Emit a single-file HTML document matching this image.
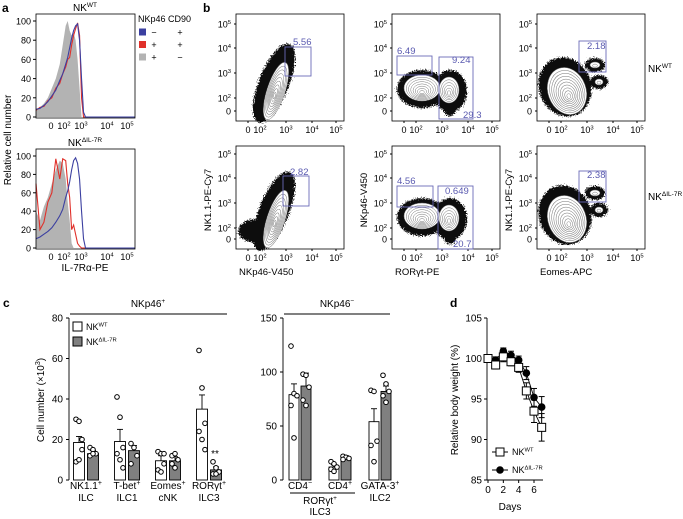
<!DOCTYPE html>
<html><head><meta charset="utf-8">
<style>
html,body{margin:0;padding:0;background:#fff;}
svg{display:block;font-family:"Liberation Sans",sans-serif;}
</style></head>
<body>
<svg id="fig" width="683" height="519" viewBox="0 0 683 519">
<defs>
<filter id="rough" x="-20%" y="-20%" width="140%" height="140%">
<feTurbulence type="fractalNoise" baseFrequency="0.9" numOctaves="2" seed="3" result="n"/>
<feDisplacementMap in="SourceGraphic" in2="n" scale="7" xChannelSelector="R" yChannelSelector="G"/>
</filter>
</defs>
<g id="pa"></g>
<g id="pb"></g>
<g id="pc"></g>
<g id="pd"></g>
</svg>
<script>
// ---------- DATA ----------
const histX = [0,4,8,12,16,20,24,27,30,32,34,36,38,40,42,44,46,48,50,52,54,56,60,70,100];
const topGray = [8,10,14,20,30,40,55,75,95,100,90,85,88,80,60,30,0,0,0,0,0,0,0,0,0];
const topBlue = [8,9,12,16,22,28,38,45,55,62,72,82,90,95,97,80,40,5,0,0,0,0,0,0,0];
const topRed  = [7,10,11,17,20,30,35,45,52,60,62,75,85,92,98,85,20,0,0,0,0,0,0,0,0];
const botGray = [40,30,45,55,70,85,95,92,75,50,30,5,0,0,0,0,0,0,0,0,0,0,0,0,0];
const botBlue = [10,12,15,18,22,28,35,42,55,62,72,85,95,98,92,75,40,10,0,0,0,0,0,0,0];
const botRed  = [70,20,28,50,60,97,75,97,95,70,55,20,25,15,5,2,0,0,0,0,0,0,0,0,0];

const cLeftCats = ["NK1.1+|ILC","T-bet+|ILC1","Eomes+|cNK","RORγt+|ILC3"];
const cLeftWT = [18.5,19,9.5,35];
const cLeftWTerr = [3,6,2.5,7];
const cLeftKO = [13,14.5,9.5,5];
const cLeftKOerr = [1.5,2.5,2,1.5];
const cLeftWTdots = [[30,29,15,9,10,20],[41,31,16,13,10,6],[14,13,8,5,4,13],[64,45.5,28,24,20,15]];
const cLeftKOdots = [[16,15,13,12,13],[18,16,12,8],[12,13,10,8,6],[9,6,4,3,3]];
const cLeftTicks = [0,20,40,60,80];
const cRightCats = ["CD4−","CD4+","GATA-3+|ILC2"];
const cRightWT = [79,12,54];
const cRightWTerr = [10,2,12];
const cRightKO = [87,21,82];
const cRightKOerr = [12,1.5,5];
const cRightWTdots = [[124,80,78,69,39],[17,15,12,10,8],[83,82,36,32,17]];
const cRightKOdots = [[98,97,86,74,69],[22,21,20,19],[97,89,82,78,72]];
const cRightTicks = [0,50,100,150];

const dDays = [0,1,2,3,4,5,6,7];
const dWT = [100,99.2,100.2,99.6,98.9,96,93.5,91.5];
const dWTerr = [0.3,0.5,0.6,0.5,0.6,1,1.4,1.7];
const dKO = [100,99.8,100.9,100.4,99.8,98.2,95.2,94];
const dKOerr = [0.3,0.4,0.4,0.5,0.5,0.8,1.1,1.3];
const dYTicks = [85,90,95,100,105];
const dXTicks = [0,2,4,6];

// ---------- helpers ----------
const NS="http://www.w3.org/2000/svg";
function el(parent,tag,attrs,text){const e=document.createElementNS(NS,tag);for(const k in attrs)e.setAttribute(k,attrs[k]);if(text!==undefined)e.textContent=text;parent.appendChild(e);return e;}
function supText(parent,x,y,base,sup,size,anchor){const t=el(parent,'text',{x:x,y:y,'font-size':size,'text-anchor':anchor||'start'});const a=document.createElementNS(NS,'tspan');a.textContent=base;t.appendChild(a);const b=document.createElementNS(NS,'tspan');b.setAttribute('dy',-size*0.4);b.setAttribute('font-size',size*0.65);b.textContent=sup;t.appendChild(b);return t;}

// ---------- Panel a ----------
const pa=document.getElementById('pa');
let t=el(pa,'text',{x:2,y:12,'font-size':12,'font-weight':'bold'},'a');

function hist(y0,y100,title,gray,blue,red,name){
  const x0=36,x1=135;
  const g=el(pa,'g',{});
  
  const fx=v=>x0+(x1-x0)*v/100, fy=v=>y0-(y0-y100)*v/100;
  let d='M'+fx(histX[0])+','+y0;histX.forEach((h,i)=>d+=' L'+fx(h)+','+fy(gray[i]));d+=' L'+fx(100)+','+y0+'Z';
  const gp=el(g,'path',{d:d,fill:'#b3b3b3',stroke:'none'});
  
  [[red,'#e0302a','red-histogram'],[blue,'#3b3fa0','blue-histogram']].forEach(s=>{
    let p='';histX.forEach((h,i)=>p+=(i?' L':'M')+fx(h)+','+fy(s[0][i]));
    const pe=el(g,'path',{d:p,fill:'none',stroke:s[1],'stroke-width':1.1});
    
  });
  el(g,'rect',{x:x0,y:y100-7,width:x1-x0,height:y0-y100+8,fill:'none',stroke:'#000','stroke-width':0.8});
  [0,20,40,60,80,100].forEach(v=>{el(g,'line',{x1:x0-3,x2:x0,y1:fy(v),y2:fy(v),stroke:'#000'});el(g,'text',{x:x0-5,y:fy(v)+3.5,'font-size':9,'text-anchor':'end'},v);});
  el(g,'text',{x:51,y:y0+12,'font-size':9,'text-anchor':'middle'},'0');
  [[64,'2'],[81,'3'],[107,'4'],[127,'5']].forEach(a=>supText(g,a[0],y0+12,'10',a[1],9,'middle'));
  const tt=supText(g,85,y100-10,'NK',title,10,'middle');
  
}
hist(117,21,'WT',topGray,topBlue,topRed,'histogram-nk-wt');
hist(248,156,'ΔIL-7R',botGray,botBlue,botRed,'histogram-nk-dil7r');
t=el(pa,'text',{x:0,y:0,'font-size':10,'text-anchor':'middle',transform:'translate(11,140) rotate(-90)'},'Relative cell number');

t=el(pa,'text',{x:85,y:271,'font-size':10,'text-anchor':'middle'},'IL-7Rα-PE');

const lg=el(pa,'g',{});

el(lg,'text',{x:138,y:22,'font-size':9},'NKp46');el(lg,'text',{x:168,y:22,'font-size':9},'CD90');
[['#3b3fa0','−','+'],['#e0302a','+','+'],['#b3b3b3','+','−']].forEach((r,i)=>{
  const y=32+i*12.5;el(lg,'rect',{x:139,y:y-3.5,width:7,height:7,fill:r[0]});
  el(lg,'text',{x:154,y:y+3.5,'font-size':9,'text-anchor':'middle'},r[1]);
  el(lg,'text',{x:180,y:y+3.5,'font-size':9,'text-anchor':'middle'},r[2]);
});

// ---------- Panel b ----------
const pb=document.getElementById('pb');
t=el(pb,'text',{x:203,y:12,'font-size':12,'font-weight':'bold'},'b');

const cols=[236,392,537], W=108;
const rows=[{top:14,bot:121,yt:[24,48,73,98,111]},{top:146,bot:249,yt:[154,178,203,228,239]}];
const xLabels=['NKp46-V450','RORγt-PE','Eomes-APC'];
const yLabels=['NK1.1-PE-Cy7','NKp46-V450','NK1.1-PE-Cy7'];
const gates=[
 [[[285,47,26,29,'5.56',293,45]],[[397,56,35,19,'6.49',397,54],[439,57,34,62,'9.24',452,63],[null,0,0,0,'29.3',463,118]],[[579,41,27,31,'2.18',587,49]]],
 [[[283,176,26,30,'2.82',290,175]],[[397,186,36,21,'4.56',397,184],[438,186,35,63,'0.649',445,194],[null,0,0,0,'20.7',453,247]],[[579,171,27,31,'2.38',587,178]]]
];
rows.forEach((r,ri)=>cols.forEach((cx,ci)=>{
  const g=el(pb,'g',{});
  
  const bot=r.bot-8;
  const bg=el(g,'g',{filter:'url(#rough)'});
  const cg=el(g,'g',{});
  const blob=(x,y,rx,ry,rot)=>{el(bg,'ellipse',{cx:x,cy:y,rx:rx,ry:ry,fill:'#111',transform:`rotate(${rot} ${x} ${y})`});};
  const cont=(x,y,rx,ry,rot,n)=>{for(let k=0;k<n;k++){const f=1-k/n;el(cg,'ellipse',{cx:x,cy:y+k*0.6,rx:rx*f,ry:ry*f,fill:k==0?'#fff':'none',stroke:'#777','stroke-width':0.5,transform:`rotate(${rot} ${x} ${y})`});}};
  if(ci==0){blob(cx+38,bot-30,15,42,22);if(ri==1){blob(cx+22,bot-10,20,12,0);}cont(cx+40,bot-22,9,30,18,9);}
  if(ci==1){blob(cx+30,bot-24,25,19,0);blob(cx+58,bot-22,17,21,0);blob(cx+58,bot-6,7,9,0);cont(cx+30,bot-25,18,13,0,8);cont(cx+57,bot-23,10,13,0,6);}
  if(ci==2){blob(cx+28,bot-26,26,30,-20);blob(cx+58,bot-48,10,7,0);blob(cx+62,bot-31,9,7,0);cont(cx+30,bot-22,19,24,-20,10);cont(cx+58,bot-48,5,3,0,2);cont(cx+62,bot-31,4,3,0,2);}
  el(g,'rect',{x:cx,y:r.top,width:W,height:r.bot-r.top,fill:'none',stroke:'#000','stroke-width':0.8});
  ['5','4','3','2'].forEach((e,k)=>supText(g,cx-5,r.yt[k]+3.5,'10',e,9,'end'));
  el(g,'text',{x:cx-5,y:r.yt[4]+3.5,'font-size':9,'text-anchor':'end'},'0');
  r.yt.forEach(y=>el(g,'line',{x1:cx-2,x2:cx,y1:y,y2:y,stroke:'#000'}));
  const xo=[12,24,50,76,100];
  el(g,'text',{x:cx+xo[0],y:r.bot+12,'font-size':9,'text-anchor':'middle'},'0');
  ['2','3','4','5'].forEach((e,k)=>supText(g,cx+xo[k+1],r.bot+12,'10',e,9,'middle'));
  xo.forEach(x=>el(g,'line',{x1:cx+x,x2:cx+x,y1:r.bot,y2:r.bot+2,stroke:'#000'}));
  gates[ri][ci].forEach(q=>{
    if(q[0]!==null){const gr=el(g,'rect',{x:q[0],y:q[1],width:q[2],height:q[3],fill:'none',stroke:'#6a6ab8','stroke-width':0.9});
      }
    const gt=el(g,'text',{x:q[5],y:q[6],'font-size':9.5,fill:'#5a5ab0'},q[4]);
    
  });
  if(ri==1){
    const xl=el(g,'text',{x:cx+3,y:275,'font-size':9.5},xLabels[ci]);
    
    const yl=el(g,'text',{x:0,y:0,'font-size':9.5,'text-anchor':'middle',transform:`translate(${cx-25},200) rotate(-90)`},yLabels[ci]);
    
  }
}));
t=supText(pb,648,72,'NK','WT',10,'start');
t=supText(pb,648,200,'NK','ΔIL-7R',10,'start');

// ---------- Panel c ----------
const pc=document.getElementById('pc');
t=el(pc,'text',{x:3,y:307,'font-size':12,'font-weight':'bold'},'c');

function barChart(opts){
  const g=el(pc,'g',{});
  
  const y0=480,yTop=318;
  const fy=v=>y0-(y0-yTop)*v/opts.max;
  el(g,'line',{x1:opts.ax,x2:opts.ax,y1:yTop,y2:y0,stroke:'#000','stroke-width':0.9});
  opts.ticks.forEach(v=>{el(g,'line',{x1:opts.ax-3,x2:opts.ax,y1:fy(v),y2:fy(v),stroke:'#000'});
    const tl=el(g,'text',{x:opts.ax-6,y:fy(v)+3.5,'font-size':10,'text-anchor':'end'},v);
    });
  opts.cats.forEach((c,i)=>{
    const gx=opts.x0+i*opts.step;
    [[opts.wt,opts.wtErr,opts.wtDots,'#fff',-opts.off,'wt'],[opts.ko,opts.koErr,opts.koDots,'#808080',opts.off,'ko']].forEach(s=>{
      const cx=gx+s[4],v=s[0][i],e=s[1][i],bw=opts.bw;
      el(g,'line',{x1:cx,x2:cx,y1:fy(v),y2:fy(v+e),stroke:'#000','stroke-width':0.9});
      el(g,'line',{x1:cx-3,x2:cx+3,y1:fy(v+e),y2:fy(v+e),stroke:'#000','stroke-width':0.9});
      const b=el(g,'rect',{x:cx-bw/2,y:fy(v),width:bw,height:y0-fy(v),fill:s[3],stroke:'#000','stroke-width':0.9});
      
      s[2][i].forEach((d,k)=>{const dot=el(g,'circle',{cx:cx+((k%3)-1)*3,cy:fy(d),r:2.3,fill:'#fff',stroke:'#000','stroke-width':1});
        });
    });
    const parts=c.split('|');
    if(parts[0]!==''){const lt=el(g,'text',{x:gx,y:489,'font-size':10,'text-anchor':'middle'});
      const m=parts[0].match(/^(.*?)([+−])$/);
      if(m){const a=document.createElementNS(NS,'tspan');a.textContent=m[1];lt.appendChild(a);const b2=document.createElementNS(NS,'tspan');b2.setAttribute('dy',-4);b2.setAttribute('font-size',7);b2.textContent=m[2];lt.appendChild(b2);}
      else lt.textContent=parts[0];
      }
    if(parts[1]){const l2=el(g,'text',{x:gx,y:501,'font-size':10,'text-anchor':'middle'},parts[1]);
      }
  });
  el(g,'line',{x1:opts.ax+1,x2:opts.lineEnd,y1:314,y2:314,stroke:'#000','stroke-width':0.9});
  const tt=supText(g,opts.titleX,307,'NKp46',opts.sup,10,'middle');
  
  return {g,fy};
}
barChart({name:'chart-nkp46-pos',ax:69,max:80,ticks:cLeftTicks,cats:cLeftCats,wt:cLeftWT,wtErr:cLeftWTerr,ko:cLeftKO,koErr:cLeftKOerr,wtDots:cLeftWTdots,koDots:cLeftKOdots,x0:86,step:41,off:7,bw:11,lineEnd:227,titleX:148,sup:'+'});
const rc=barChart({name:'chart-nkp46-neg',ax:283,max:150,ticks:cRightTicks,cats:cRightCats,wt:cRightWT,wtErr:cRightWTerr,ko:cRightKO,koErr:cRightKOerr,wtDots:cRightWTdots,koDots:cRightKOdots,x0:300,step:40,off:6,bw:10,lineEnd:390,titleX:337,sup:'−'});
el(rc.g,'line',{x1:290,x2:355,y1:493,y2:493,stroke:'#000','stroke-width':0.9});
supText(rc.g,320,504,'RORγt','+',10,'middle');
el(rc.g,'text',{x:320,y:515,'font-size':10,'text-anchor':'middle'},'ILC3');
t=el(pc,'text',{x:215,y:457,'font-size':10,'text-anchor':'middle'},'**');

t=el(pc,'text',{x:0,y:0,'font-size':10,'text-anchor':'middle',transform:'translate(44,400) rotate(-90)'});
t.innerHTML='Cell number (×10<tspan dy="-4" font-size="7">3</tspan><tspan dy="4">)</tspan>';

const cl=el(pc,'g',{});

el(cl,'rect',{x:73,y:322,width:9,height:9,fill:'#fff',stroke:'#000'});
supText(cl,86,330,'NK','WT',9,'start');
el(cl,'rect',{x:73,y:337,width:9,height:9,fill:'#808080',stroke:'#000'});
supText(cl,86,345,'NK','ΔIL-7R',9,'start');

// ---------- Panel d ----------
const pd=document.getElementById('pd');
t=el(pd,'text',{x:450,y:307,'font-size':12,'font-weight':'bold'},'d');

const dAx=487,dy0=480,dyTop=318;
const fyd=v=>dy0-(dy0-dyTop)*(v-85)/20;
const fxd=d=>488+d*(534-488)/6;
el(pd,'line',{x1:dAx,x2:dAx,y1:dyTop,y2:dy0,stroke:'#000','stroke-width':0.9});
el(pd,'line',{x1:dAx,x2:543,y1:dy0,y2:dy0,stroke:'#000','stroke-width':0.9});
dYTicks.forEach(v=>{el(pd,'line',{x1:dAx-3,x2:dAx,y1:fyd(v),y2:fyd(v),stroke:'#000'});
  const tl=el(pd,'text',{x:dAx-5,y:fyd(v)+3.5,'font-size':10,'text-anchor':'end'},v);
  });
dXTicks.forEach(v=>{el(pd,'line',{x1:fxd(v),x2:fxd(v),y1:dy0,y2:dy0+3,stroke:'#000'});
  const tl=el(pd,'text',{x:fxd(v),y:dy0+13,'font-size':10,'text-anchor':'middle'},v);
  });
[[dKO,dKOerr,'ko'],[dWT,dWTerr,'wt']].forEach(s=>{
  let p='';dDays.forEach((d,i)=>p+=(i?' L':'M')+fxd(d)+','+fyd(s[0][i]));
  const ln=el(pd,'path',{d:p,fill:'none',stroke:'#000','stroke-width':0.9});
  
  dDays.forEach((d,i)=>{const x=fxd(d),y=fyd(s[0][i]),e=s[1][i];
    el(pd,'line',{x1:x,x2:x,y1:fyd(s[0][i]+e),y2:fyd(s[0][i]-e),stroke:'#000'});
    el(pd,'line',{x1:x-3,x2:x+3,y1:fyd(s[0][i]+e),y2:fyd(s[0][i]+e),stroke:'#000'});
    el(pd,'line',{x1:x-3,x2:x+3,y1:fyd(s[0][i]-e),y2:fyd(s[0][i]-e),stroke:'#000'});
    let m;
    if(s[2]=='ko')m=el(pd,'circle',{cx:x,cy:y,r:3.8,fill:'#000'});
    else m=el(pd,'rect',{x:x-4,y:y-4,width:8,height:8,fill:'#fff',stroke:'#000','stroke-width':1});
    
  });
});
const dl=el(pd,'g',{});

el(dl,'line',{x1:492,x2:508,y1:452,y2:452,stroke:'#000'});
el(dl,'rect',{x:496,y:448,width:8,height:8,fill:'#fff',stroke:'#000'});
supText(dl,512,455,'NK','WT',9,'start');
el(dl,'line',{x1:492,x2:508,y1:470,y2:470,stroke:'#000'});
el(dl,'circle',{cx:500,cy:470,r:3.8,fill:'#000'});
supText(dl,512,473,'NK','ΔIL-7R',9,'start');
t=el(pd,'text',{x:510,y:510,'font-size':10,'text-anchor':'middle'},'Days');

t=el(pd,'text',{x:0,y:0,'font-size':10,'text-anchor':'middle',transform:'translate(458,400) rotate(-90)'},'Relative body weight (%)');

</script>
</body></html>
